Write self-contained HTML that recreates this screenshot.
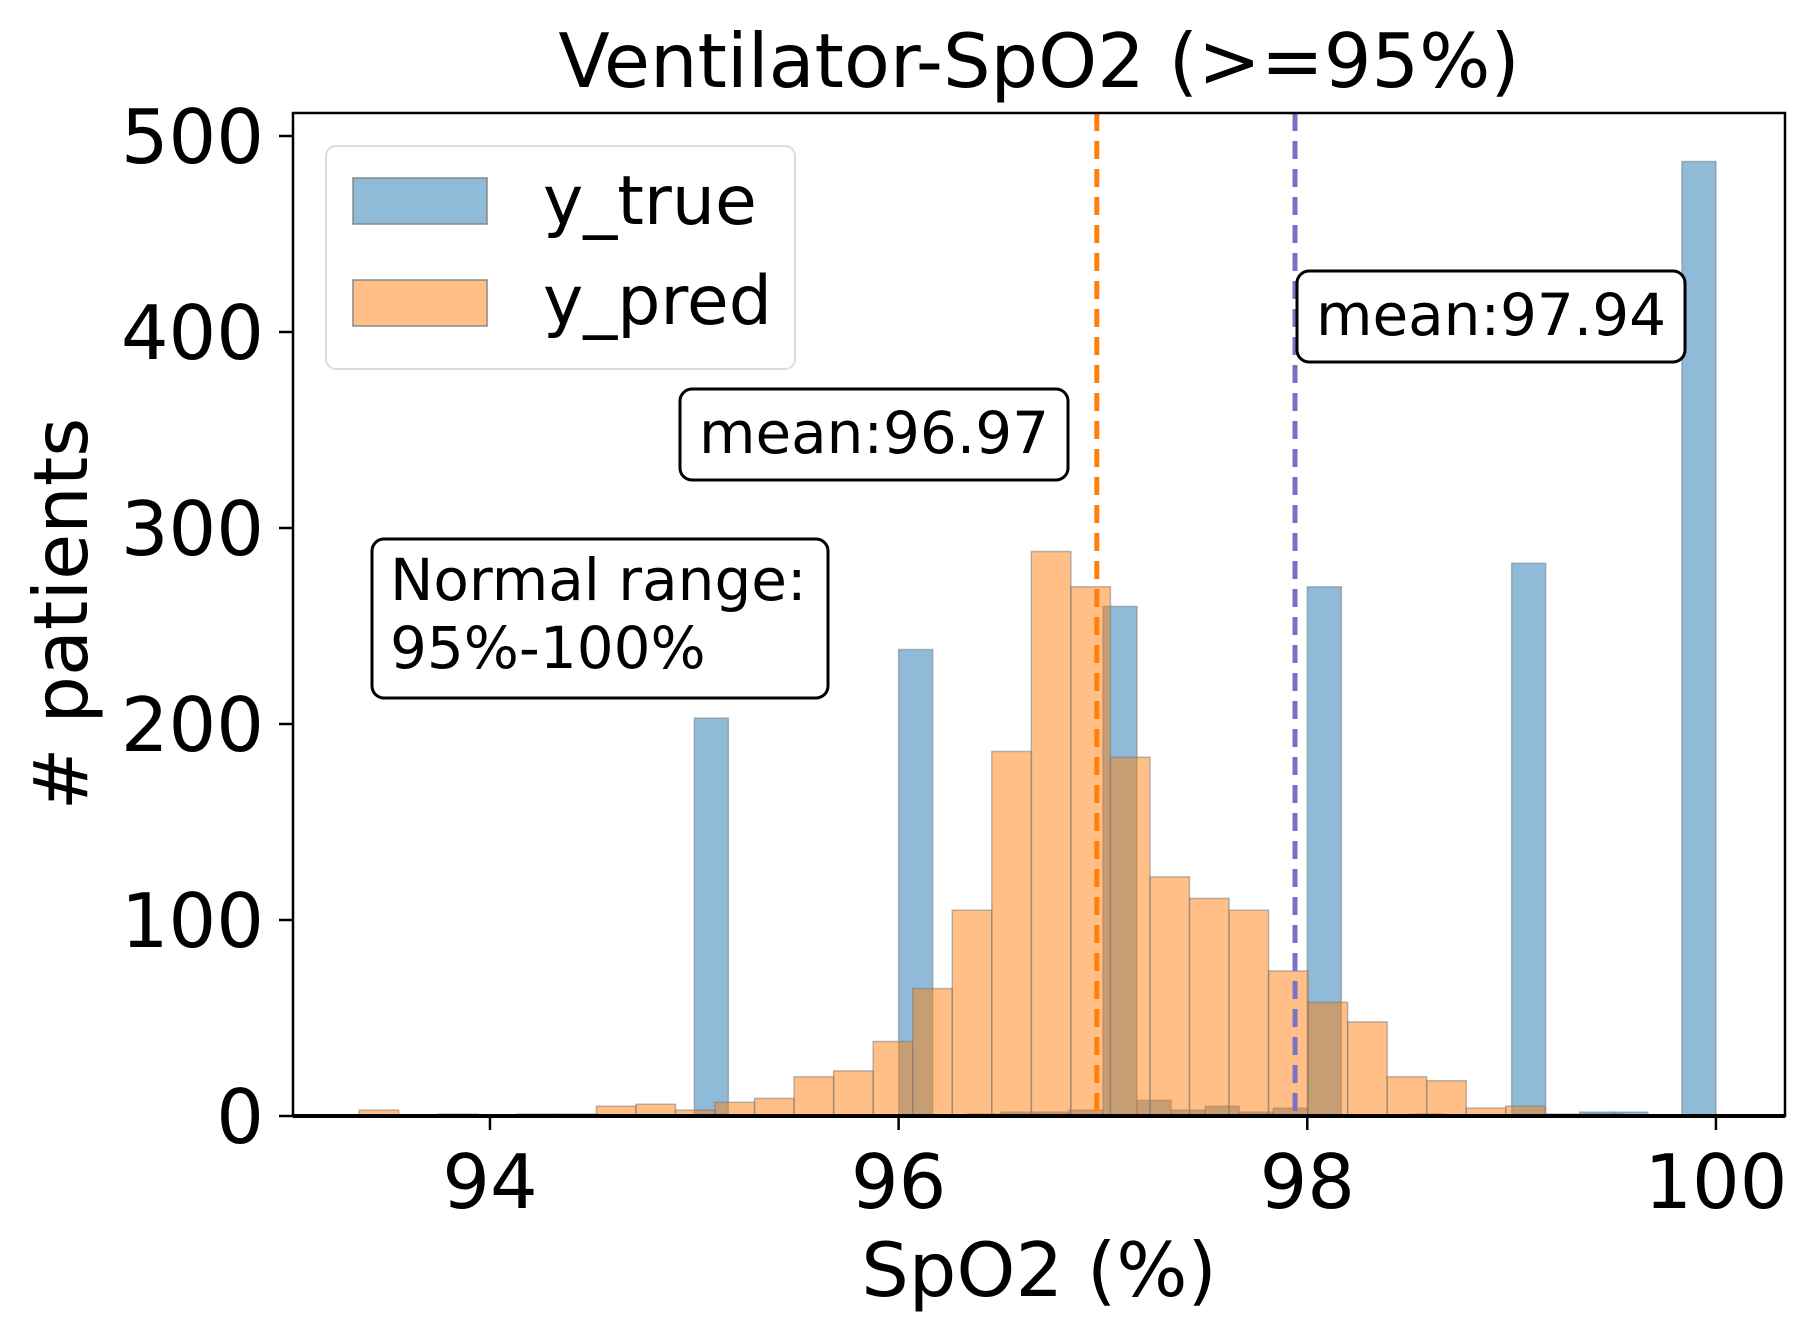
<!DOCTYPE html>
<html><head><meta charset="utf-8"><style>
html,body{margin:0;padding:0;background:#fff;}
svg{display:block;font-family:"DejaVu Sans","Liberation Sans",sans-serif;}
</style></head><body>
<svg id="chart" width="1818" height="1338" viewBox="0 0 1818 1338">
<rect width="1818" height="1338" fill="#fff"/>
<g id="bars"></g>
<g id="lines"></g>
<g id="axes"></g>
<text x="1039" y="87" font-size="75" text-anchor="middle">Ventilator-SpO2 (&gt;=95%)</text>
<text x="1039" y="1296" font-size="75" text-anchor="middle">SpO2 (%)</text>
<text transform="translate(87,614) rotate(-90)" font-size="75" text-anchor="middle"># patients</text>
<g>
<rect x="326" y="146" width="469" height="223" rx="10" fill="#fff" fill-opacity="0.8" stroke="#ddd" stroke-width="2"/>
<rect x="353" y="178" width="134" height="46" fill="#1f77b4" fill-opacity="0.5" stroke="#888" stroke-width="1.5"/>
<rect x="353" y="280" width="134" height="46" fill="#ff7f0e" fill-opacity="0.5" stroke="#888" stroke-width="1.5"/>
<text x="543" y="224" font-size="68">y_true</text>
<text x="543" y="324" font-size="68">y_pred</text>
</g>
<g>
<rect x="680" y="389" width="388" height="91" rx="12" fill="#fff" stroke="#000" stroke-width="3"/>
<text x="874" y="453" font-size="58" text-anchor="middle">mean:96.97</text>
</g>
<g>
<rect x="1297" y="271" width="388" height="91" rx="12" fill="#fff" stroke="#000" stroke-width="3"/>
<text x="1491" y="335" font-size="58" text-anchor="middle">mean:97.94</text>
</g>
<g>
<rect x="372" y="539" width="456" height="159" rx="12" fill="#fff" stroke="#000" stroke-width="3"/>
<text x="390" y="600" font-size="58">Normal range:</text>
<text x="390" y="668" font-size="58">95%-100%</text>
</g>
</svg>
<script>
const predEdgeStart = 93.36;
const predBinWidth = 0.1935;
const predCounts = [3,0,1,0,1,1,5,6,3,7,9,20,23,38,65,105,186,288,270,183,122,111,105,74,58,48,20,18,4,5,0,1];
const trueBinStart = 95.0;
const trueBinWidth = 0.16667;
const trueCounts = [203,0,0,0,0,0,238,0,1,2,2,3,260,8,3,5,2,4,270,0,0,1,0,0,282,1,2,2,0,487];
const xTicks = [94,96,98,100];
const yTicks = [0,100,200,300,400,500];
const meanPred = 96.97, meanTrue = 97.94;

const L=293,R=1785,T=113,B=1116;
const xMin=93.036,xMax=100.338;
const X=v=>L+(v-xMin)/(xMax-xMin)*(R-L);
const Y=v=>B-v*1.96;
const NS='http://www.w3.org/2000/svg';
const bars=document.getElementById('bars');
function mk(tag,attrs,parent){const e=document.createElementNS(NS,tag);for(const k in attrs)e.setAttribute(k,attrs[k]);parent.appendChild(e);return e;}

trueCounts.forEach((c,i)=>{
  if(c<=0)return;
  const x0=X(trueBinStart+i*trueBinWidth),x1=X(trueBinStart+(i+1)*trueBinWidth);
  const r=mk('rect',{x:x0,y:Y(c),width:x1-x0,height:B-Y(c),fill:'#1f77b4','fill-opacity':0.5,stroke:'#777','stroke-opacity':0.5,'stroke-width':1.5},bars);
  
  
});
predCounts.forEach((c,i)=>{
  if(c<=0)return;
  const x0=X(predEdgeStart+i*predBinWidth),x1=X(predEdgeStart+(i+1)*predBinWidth);
  const r=mk('rect',{x:x0,y:Y(c),width:x1-x0,height:B-Y(c),fill:'#ff7f0e','fill-opacity':0.5,stroke:'#777','stroke-opacity':0.5,'stroke-width':1.5},bars);
  
  
});
const lines=document.getElementById('lines');
const l1=mk('line',{x1:X(meanPred),x2:X(meanPred),y1:T,y2:B,stroke:'#ff7f0e','stroke-width':5,'stroke-dasharray':'18,10'},lines);


const l2=mk('line',{x1:X(meanTrue),x2:X(meanTrue),y1:T,y2:B,stroke:'#7b72c8','stroke-width':5,'stroke-dasharray':'18,10'},lines);



const axes=document.getElementById('axes');
const frame=mk('rect',{x:L,y:T,width:R-L,height:B-T,fill:'none',stroke:'#000','stroke-width':2.5},axes);


mk('line',{x1:L,x2:R,y1:B,y2:B,stroke:'#000','stroke-width':4},axes);
xTicks.forEach(v=>{
  mk('line',{x1:X(v),x2:X(v),y1:B,y2:B+14,stroke:'#000','stroke-width':2.5},axes);
  const t=mk('text',{x:X(v),y:1208,'font-size':75,'text-anchor':'middle'},axes);
  t.textContent=v;
  
  
});
yTicks.forEach(v=>{
  mk('line',{x1:L-14,x2:L,y1:Y(v),y2:Y(v),stroke:'#000','stroke-width':2.5},axes);
  const t=mk('text',{x:264,y:Y(v)+27,'font-size':75,'text-anchor':'end'},axes);
  t.textContent=v;
  
  
});
</script>
</body></html>
